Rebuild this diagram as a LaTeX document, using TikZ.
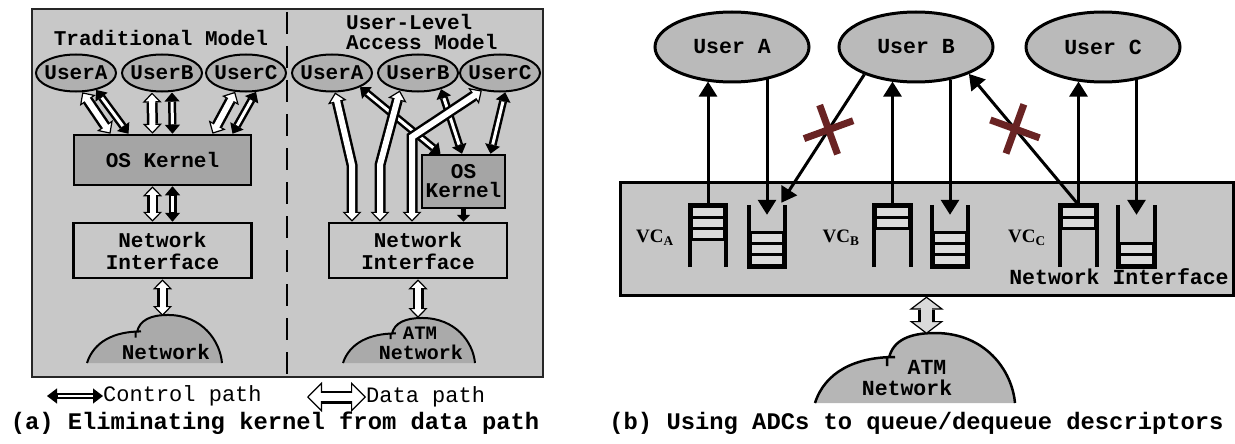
\documentclass[tikz,border=0pt]{standalone}
\usepackage{fontspec}
\setmainfont{Liberation Serif}
\setmonofont{Liberation Mono}
\usetikzlibrary{arrows.meta,shapes.geometric,shapes.misc,calc}
\definecolor{bgAc}{RGB}{200,200,200}
\definecolor{ellAc}{RGB}{176,176,176}
\definecolor{kernc}{RGB}{165,165,165}
\definecolor{domeAc}{RGB}{170,170,170}
\definecolor{ellBc}{RGB}{186,186,186}
\definecolor{niBc}{RGB}{198,198,198}
\definecolor{domeBc}{RGB}{182,182,182}
\definecolor{qitemc}{RGB}{218,218,218}
\definecolor{xredc}{RGB}{105,35,35}
\definecolor{shaftBc}{RGB}{218,218,218}

% hollow double-headed arrow: #1 outer width, #2 inner width, #3 inner colour,
% #4 head width, #5 head length, #6 head fill, #7 inner shorten, #8 path
\newcommand{\hollow}[8]{%
  \draw[line width=1.2pt, {Triangle[width=#4,length=#5,fill=#6,line width=1.2pt]}-{Triangle[width=#4,length=#5,fill=#6,line width=1.2pt]}] #8;
  \draw[line width=#1, shorten <=#5, shorten >=#5] #8;
  \draw[line width=#2, draw=#3, shorten <=#7, shorten >=#7] #8;}
\newcommand{\dataA}[1]{\hollow{11pt}{6pt}{white}{19pt}{10pt}{white}{7.5pt}{#1}}
\newcommand{\ctrlA}[1]{\hollow{8pt}{3pt}{white}{15pt}{9pt}{black}{9.5pt}{#1}}

\newcommand{\domefill}{(0,0) .. controls (10,-31) and (40,-46) .. (76,-46) .. controls (78,-63) and (95,-70) .. (120,-70) .. controls (170,-70) and (197,-33) .. (200,0) -- cycle}
\newcommand{\domestroke}{(0,0) .. controls (10,-31) and (40,-46) .. (80,-46) (72,-46) -- (72,-37) (74,-45) .. controls (78,-63) and (95,-70) .. (120,-70) .. controls (170,-70) and (197,-33) .. (200,0)}

\newcommand{\sendq}[2]{%
  \fill[black] (#1.north west) rectangle ($(#1.north east)+(0,#2*11+3.5)$);
  \foreach \i in {1,...,#2} {\fill[qitemc] ($(#1.north west)+(5,\i*11-7.5)$) rectangle ($(#1.north east)+(-5,\i*11)$);}
  \draw[line width=4pt] ($(#1.south west)+(2,0)$) -- ($(#1.north west)+(2,0)$) -- ($(#1.north east)+(-2,0)$) -- ($(#1.south east)+(-2,0)$);}
\newcommand{\recvq}[2]{%
  \fill[black] ($(#1.south west)+(0,-#2*11-3.5)$) rectangle (#1.south east);
  \foreach \i in {1,...,#2} {\fill[qitemc] ($(#1.south west)+(5,-\i*11)$) rectangle ($(#1.south east)+(-5,-\i*11+7.5)$);}
  \draw[line width=4pt] ($(#1.north west)+(2,0)$) -- ($(#1.south west)+(2,0)$) -- ($(#1.south east)+(-2,0)$) -- ($(#1.north east)+(-2,0)$);}

\begin{document}
\begin{tikzpicture}[x=1pt,y=-1pt,
  lab/.style={font=\ttfamily\bfseries\fontsize{21}{22}\selectfont, inner sep=0pt, align=center},
  legtxt/.style={font=\ttfamily\fontsize{22}{22}\selectfont, inner sep=0pt},
  captxt/.style={font=\ttfamily\bfseries\fontsize{23.8}{24}\selectfont, inner sep=0pt},
  ellA/.style={ellipse, draw, line width=2pt, fill=ellAc, minimum width=80pt, minimum height=37pt, inner sep=0pt, font=\ttfamily\bfseries\fontsize{21}{22}\selectfont},
  ellB/.style={ellipse, draw, line width=3pt, fill=ellBc, minimum width=154pt, minimum height=70pt, inner sep=0pt, font=\ttfamily\bfseries\fontsize{21.5}{22}\selectfont},
  boxK/.style={draw, line width=2.5pt, fill=kernc, inner sep=0pt, align=center, font=\ttfamily\bfseries\fontsize{21}{22}\selectfont},
  boxN/.style={draw, line width=2.5pt, fill=bgAc, inner sep=0pt, align=center, font=\ttfamily\bfseries\fontsize{21}{22}\selectfont},
  qbox/.style={rectangle, minimum width=40pt, minimum height=62pt, inner sep=0pt},
  vclab/.style={font=\rmfamily\bfseries\fontsize{19}{20}\selectfont, inner sep=0pt},
  varr/.style={line width=3pt, -{Triangle[width=18pt,length=15pt]}},
  xmark/.style={cross out, draw=xredc, line width=7pt, minimum size=30pt, inner sep=0pt}]
\useasboundingbox (0,0) rectangle (1235,444);

% ================= (a) =================
\node[draw=black!85, line width=1.5pt, fill=bgAc, minimum width=511pt, minimum height=368pt, inner sep=0pt] (panelA) at (287.5,193) {};
\coordinate (divTop) at (287,12);
\coordinate (divBot) at (287,377);
\draw[line width=2pt, dash pattern=on 22pt off 12pt] (divTop) -- (divBot);

\node[lab] (tradT) at (161,38) {Traditional Model};
\node[lab, align=left, anchor=west, font=\ttfamily\bfseries\fontsize{21}{20}\selectfont] (ulT) at (346,32) {User-Level\\Access Model};

\node[ellA] (uA1) at (76,73) {\makebox[0pt]{UserA}};
\node[ellA] (uB1) at (162,73) {\makebox[0pt]{UserB}};
\node[ellA] (uC1) at (246,73) {\makebox[0pt]{UserC}};
\node[ellA] (uA2) at (332,73) {\makebox[0pt]{UserA}};
\node[ellA] (uB2) at (418,73) {\makebox[0pt]{UserB}};
\node[ellA] (uC2) at (500,73) {\makebox[0pt]{UserC}};

\node[boxK, minimum width=177pt, minimum height=50pt] (kA) at (162.5,160) {OS Kernel};
\node[boxN, minimum width=178pt, minimum height=55pt] (niA) at (162.5,250.5) {Network\\Interface};
\node[boxK, minimum width=83pt, minimum height=53pt, font=\ttfamily\bfseries\fontsize{21}{19}\selectfont] (kB) at (463.5,181.5) {OS\\Kernel};
\node[boxN, minimum width=178pt, minimum height=55pt] (niB) at (418,250.5) {Network\\Interface};

% network domes (a)
\begin{scope}[shift={(87,363)}, xscale=0.675, yscale=0.686]
  \fill[domeAc] \domefill;
  \draw[line width=2pt] \domestroke;
\end{scope}
\begin{scope}[shift={(343,363)}, xscale=0.66, yscale=0.643]
  \fill[domeAc] \domefill;
  \draw[line width=2pt] \domestroke;
\end{scope}
\node[lab] (netA) at (166,352) {Network};
\node[lab, font=\ttfamily\bfseries\fontsize{19}{19}\selectfont] (atmA) at (420,333) {ATM};
\node[lab, font=\ttfamily\bfseries\fontsize{20}{20}\selectfont] (atmAn) at (421,352) {Network};
\coordinate (netTopA) at (162.5,316);
\coordinate (netTopB) at (418,318);

% traditional model arrows
\ctrlA{(uA1.-40) -- ([xshift=-34pt]kA.north)}
\dataA{(uA1.-72) -- ([xshift=-52pt]kA.north)}
\dataA{([xshift=-10pt]uB1.south) -- ([xshift=-10pt]kA.north)}
\ctrlA{([xshift=10pt]uB1.south) -- ([xshift=10pt]kA.north)}
\dataA{(uC1.-120) -- ([xshift=50pt]kA.north)}
\ctrlA{(uC1.-62) -- ([xshift=70pt]kA.north)}
\dataA{([xshift=-10pt]kA.south) -- ([xshift=-10pt]niA.north)}
\ctrlA{([xshift=10pt]kA.south) -- ([xshift=10pt]niA.north)}
\dataA{(niA.south) -- (netTopA)}

% user-level access model arrows
\coordinate (bA) at (352,165);
\coordinate (bB) at (380,165);
\coordinate (bC) at (412,137);
\ctrlA{(uA2.-27) -- ([xshift=-23pt]kB.north)}
\ctrlA{(uB2.-35) -- ([xshift=-1.5pt]kB.north)}
\ctrlA{(uC2.-75) -- ([xshift=27pt]kB.north)}
\draw[line width=5pt, -{Triangle[width=13pt,length=7pt]}] (kB.south) -- (kB.south |- niB.north);
\dataA{(uA2.-81) -- (bA) -- ([xshift=-66pt]niB.north)}
\dataA{(uB2.-136) -- (bB) -- ([xshift=-38pt]niB.north)}
\dataA{(uC2.-136) -- (bC) -- ([xshift=-6pt]niB.north)}
\dataA{(niB.south) -- (netTopB)}

% legend
\coordinate (lc) at (47,396);
\node[legtxt, anchor=west] (ctrlT) at (103,396) {Control path};
\hollow{6pt}{2pt}{white}{15pt}{10pt}{black}{10.5pt}{(lc) -- (ctrlT.west)}
\coordinate (ld) at (307,397);
\node[legtxt, anchor=west] (dataT) at (366,397) {Data path};
\hollow{13pt}{8.5pt}{white}{30pt}{15pt}{white}{12.5pt}{(ld) -- (dataT.west)}
\node[captxt] (capA) at (275,423) {(a) Eliminating kernel from data path};

% ================= (b) =================
\node[ellB] (uA) at (732,47) {\makebox[0pt]{User A}};
\node[ellB] (uB) at (916,47) {\makebox[0pt]{User B}};
\node[ellB] (uC) at (1103,47) {\makebox[0pt]{User C}};

\node[draw, line width=3pt, fill=niBc, minimum width=613pt, minimum height=113pt, inner sep=0pt] (ni) at (926.5,238.5) {};
\node[lab, font=\ttfamily\bfseries\fontsize{21.5}{22}\selectfont] (niT) at (1119,277) {Network Interface};

\node[qbox] (qAs) at (708,236) {};
\node[qbox] (qAr) at (767,236) {};
\node[qbox] (qBs) at (892.5,236) {};
\node[qbox] (qBr) at (950,236) {};
\node[qbox] (qCs) at (1078.5,236) {};
\node[qbox] (qCr) at (1136.5,236) {};
\sendq{qAs}{3}
\recvq{qAr}{3}
\sendq{qBs}{2}
\recvq{qBr}{3}
\sendq{qCs}{2}
\recvq{qCr}{2}

\node[vclab] (vcA) at (655,238) {VC\textsubscript{A}};
\node[vclab] (vcB) at (841,238) {VC\textsubscript{B}};
\node[vclab] (vcC) at (1027,238) {VC\textsubscript{C}};

\draw[varr] (qAs.north) -- (qAs.north |- uA.-126);
\draw[varr] (qAr.north |- uA.-42) -- ([yshift=-10pt]qAr.north);
\draw[varr] (qBs.north) -- (qBs.north |- uB.-126);
\draw[varr] (qBr.north |- uB.-43) -- ([yshift=-10pt]qBr.north);
\draw[varr] (qCs.north) -- (qCs.north |- uC.-126);
\draw[varr] (qCr.north |- uC.-43) -- ([yshift=-10pt]qCr.north);
\draw[varr] (uB.-152) -- node[xmark, pos=0.43, rotate=-25] (x1) {} ([xshift=-6pt,yshift=2pt]qAr.north east);
\draw[varr] (qCs.north) -- node[xmark, pos=0.58, rotate=25] (x2) {} (uB.-27);

% ATM network (b)
\begin{scope}[shift={(815,403)}]
  \fill[domeBc] \domefill;
  \draw[line width=2.5pt] \domestroke;
\end{scope}
\node[lab, font=\ttfamily\bfseries\fontsize{21.5}{22}\selectfont] (atmT) at (927,367) {ATM};
\node[lab, font=\ttfamily\bfseries\fontsize{21.5}{22}\selectfont] (atmN) at (907,388) {Network};
\coordinate (netTopC) at (926.5,334);
\hollow{17pt}{11pt}{shaftBc}{34pt}{13pt}{shaftBc}{10.5pt}{(ni.south) -- (netTopC)}

\node[captxt] (capB) at (916.5,423) {(b) Using ADCs to queue/dequeue descriptors};
\end{tikzpicture}
\end{document}
